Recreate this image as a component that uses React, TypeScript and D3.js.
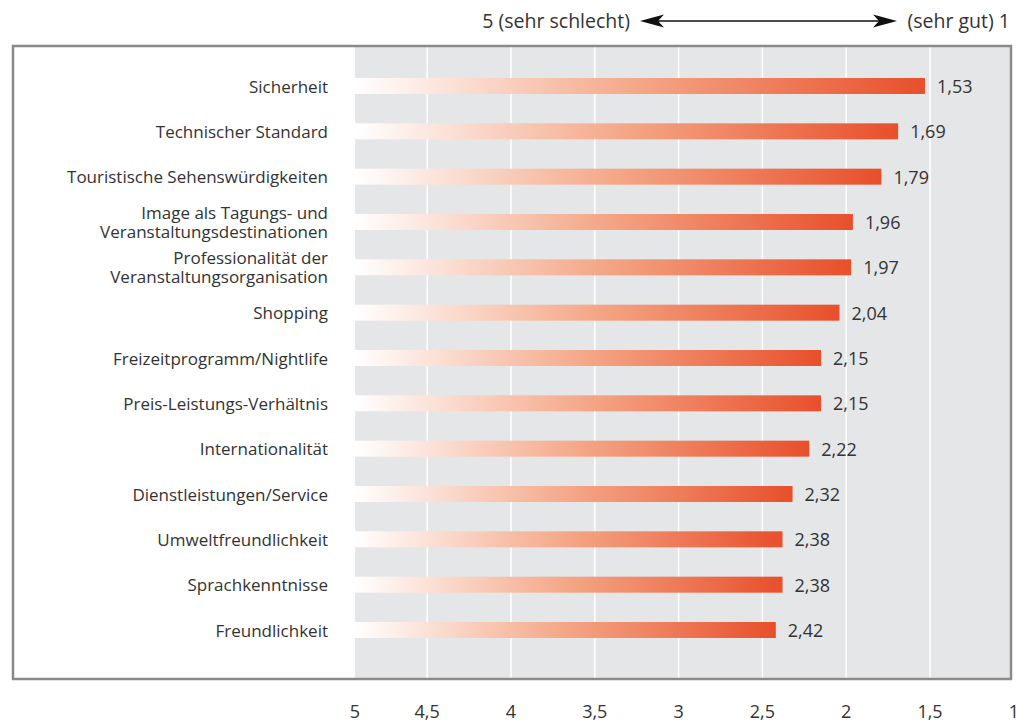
import { useMemo } from "react";
import * as d3 from "d3";

// ── Data ──────────────────────────────────────────────────────────────────────
const categories: string[][] = [
  ["Sicherheit"],
  ["Technischer Standard"],
  ["Touristische Sehenswürdigkeiten"],
  ["Image als Tagungs- und", "Veranstaltungsdestinationen"],
  ["Professionalität der", "Veranstaltungsorganisation"],
  ["Shopping"],
  ["Freizeitprogramm/Nightlife"],
  ["Preis-Leistungs-Verhältnis"],
  ["Internationalität"],
  ["Dienstleistungen/Service"],
  ["Umweltfreundlichkeit"],
  ["Sprachkenntnisse"],
  ["Freundlichkeit"],
];
const scores: number[] = [1.53, 1.69, 1.79, 1.96, 1.97, 2.04, 2.15, 2.15, 2.22, 2.32, 2.38, 2.38, 2.42];
const ticks: number[] = [5, 4.5, 4, 3.5, 3, 2.5, 2, 1.5, 1];
const gridTicks: number[] = [4.5, 4, 3.5, 3, 2.5, 2, 1.5];

// ── Layout ────────────────────────────────────────────────────────────────────
const W = 1027;
const H = 722;
const FRAME = { x: 13, y: 46, w: 998, h: 633 };
const PLOT_LEFT = 355;
const FONT = "'Open Sans', 'Noto Sans', sans-serif";
const TEXT = "#333333";

const fmt = (v: number) => String(v).replace(".", ",");

export default function App() {
  const x = useMemo(() => d3.scaleLinear().domain([5, 1]).range([343.4, 1013.8]), []);
  const y = useMemo(
    () => d3.scalePoint<number>().domain(d3.range(categories.length)).range([86, 630]),
    []
  );
  const barH = 16;
  const frameR = FRAME.x + FRAME.w;
  const frameB = FRAME.y + FRAME.h;

  // arrow geometry
  const ay = 21;
  const aL = 640;
  const aR = 897;
  const head = (tip: number, dir: number) =>
    `M${tip},${ay} L${tip + dir * 24},${ay - 6.5} L${tip + dir * 18},${ay} L${tip + dir * 24},${ay + 6.5} Z`;

  return (
    <svg
      width={W}
      height={H}
      style={{ position: "absolute", left: 0, top: 0, background: "#fff" }}
      fontFamily={FONT}
    >
      <defs>
        <linearGradient id="barGrad" x1="0" x2="1" y1="0" y2="0">
          <stop offset="0%" stopColor="#ffffff" />
          <stop offset="50%" stopColor="#f4a686" />
          <stop offset="100%" stopColor="#e84f2b" />
        </linearGradient>
      </defs>

      {/* header */}
      <text x={630} y={28} textAnchor="end" fontSize={19.5} fill={TEXT}>
        5 (sehr schlecht)
      </text>
      <line x1={aL + 18} x2={aR - 18} y1={ay} y2={ay} stroke="#111" strokeWidth={1.4} />
      <path d={head(aL, 1)} fill="#111" />
      <path d={head(aR, -1)} fill="#111" />
      <text x={1010} y={28} textAnchor="end" fontSize={19.5} fill={TEXT}>
        (sehr gut) 1
      </text>

      {/* gray plot area */}
      <rect x={PLOT_LEFT} y={FRAME.y} width={frameR - PLOT_LEFT} height={FRAME.h} fill="#e5e6e8" />

      {/* grid */}
      {gridTicks.map((t) => (
        <line key={t} x1={x(t)} x2={x(t)} y1={FRAME.y} y2={frameB} stroke="#fff" strokeWidth={1.5} />
      ))}

      {/* bars */}
      {scores.map((v, i) => {
        const cy = y(i) ?? 0;
        return (
          <g key={i}>
            <rect
              x={PLOT_LEFT}
              y={cy - barH / 2}
              width={x(v) - PLOT_LEFT}
              height={barH}
              fill="url(#barGrad)"
            />
            <text
              x={x(v) + 12}
              y={cy}
              dominantBaseline="central"
              fontSize={18}
              fill={TEXT}
            >
              {fmt(v)}
            </text>
          </g>
        );
      })}

      {/* category labels */}
      {categories.map((lines, i) => {
        const cy = y(i) ?? 0;
        const lh = 19;
        return (
          <text key={i} x={328} textAnchor="end" fontSize={17} fill={TEXT}>
            {lines.map((l, j) => (
              <tspan
                key={j}
                x={328}
                y={cy + (j - (lines.length - 1) / 2) * lh}
                dominantBaseline="central"
              >
                {l}
              </tspan>
            ))}
          </text>
        );
      })}

      {/* frame */}
      <rect
        x={FRAME.x}
        y={FRAME.y}
        width={FRAME.w}
        height={FRAME.h}
        fill="none"
        stroke="#8a8a8a"
        strokeWidth={2.5}
      />

      {/* tick labels */}
      {ticks.map((t) => (
        <text
          key={t}
          x={Math.max(x(t), PLOT_LEFT)}
          y={718}
          textAnchor="middle"
          fontSize={18}
          fill={TEXT}
        >
          {fmt(t)}
        </text>
      ))}
    </svg>
  );
}
